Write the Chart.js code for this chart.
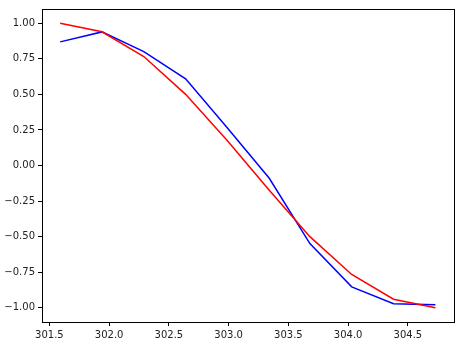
<!DOCTYPE html>
<html>
<head>
<meta charset="utf-8">
<script src="https://cdn.jsdelivr.net/npm/chart.js@4"></script>
<style>
  html, body { margin: 0; padding: 0; background: #fff; }
  #wrap { width: 462px; height: 345px; }
</style>
</head>
<body>
<div id="wrap"><canvas id="chart"></canvas></div>
<script>
// ---------- DATA ----------
const xValues = [301.59, 301.94, 302.29, 302.64, 302.99, 303.34, 303.68, 304.03, 304.38, 304.73];
const redValues = [1.0, 0.94, 0.766, 0.5, 0.174, -0.174, -0.5, -0.766, -0.94, -1.0];
const blueValues = [0.869, 0.939, 0.80, 0.609, 0.263, -0.09, -0.549, -0.853, -0.972, -0.979];

const xTicks = [301.5, 302.0, 302.5, 303.0, 303.5, 304.0, 304.5];
const yTicks = [-1.0, -0.75, -0.5, -0.25, 0.0, 0.25, 0.5, 0.75, 1.0];

const toPoints = ys => xValues.map((x, i) => ({ x: x, y: ys[i] }));
const fmt = (v, d) => v.toFixed(d).replace("-", "\u2212");

// ---------- FRAME ----------
const frame = {
  id: "frame",
  afterDatasetsDraw(chart) {
    const { ctx, chartArea: a } = chart;
    ctx.save();
    ctx.strokeStyle = "#000";
    ctx.lineWidth = 1;
    ctx.strokeRect(a.left + 0.5, a.top + 0.5, a.right - a.left, a.bottom - a.top);
    ctx.restore();
  }
};

const tickFont = { family: "DejaVu Sans", size: 10 };

new Chart(document.getElementById("chart"), {
  type: "line",
  data: {
    datasets: [
      { data: toPoints(redValues), borderColor: "#ff0000", borderWidth: 1.5, pointRadius: 0, tension: 0, fill: false },
      { data: toPoints(blueValues), borderColor: "#0000ff", borderWidth: 1.5, pointRadius: 0, tension: 0, fill: false }
    ]
  },
  options: {
    responsive: true,
    maintainAspectRatio: false,
    animation: false,
    layout: { padding: { top: 9, right: 8, left: 0, bottom: 0 } },
    plugins: { legend: { display: false }, tooltip: { enabled: false } },
    scales: {
      x: {
        type: "linear",
        min: 301.438,
        max: 304.886,
        afterBuildTicks: s => { s.ticks = xTicks.map(v => ({ value: v })); },
        afterFit: s => { s.height = 23; },
        grid: { drawOnChartArea: false, drawTicks: true, tickLength: 4, tickColor: "#000" },
        border: { display: false },
        ticks: { color: "#222", font: tickFont, padding: 3, maxRotation: 0, autoSkip: false,
                 callback: v => fmt(v, 1) }
      },
      y: {
        min: -1.1,
        max: 1.1,
        afterBuildTicks: s => { s.ticks = yTicks.map(v => ({ value: v })); },
        afterFit: s => { s.width = 42; },
        grid: { drawOnChartArea: false, drawTicks: true, tickLength: 4, tickColor: "#000" },
        border: { display: false },
        ticks: { color: "#222", font: tickFont, padding: 3, autoSkip: false,
                 callback: v => fmt(v, 2) }
      }
    }
  },
  plugins: [frame]
});
</script>
</body>
</html>
